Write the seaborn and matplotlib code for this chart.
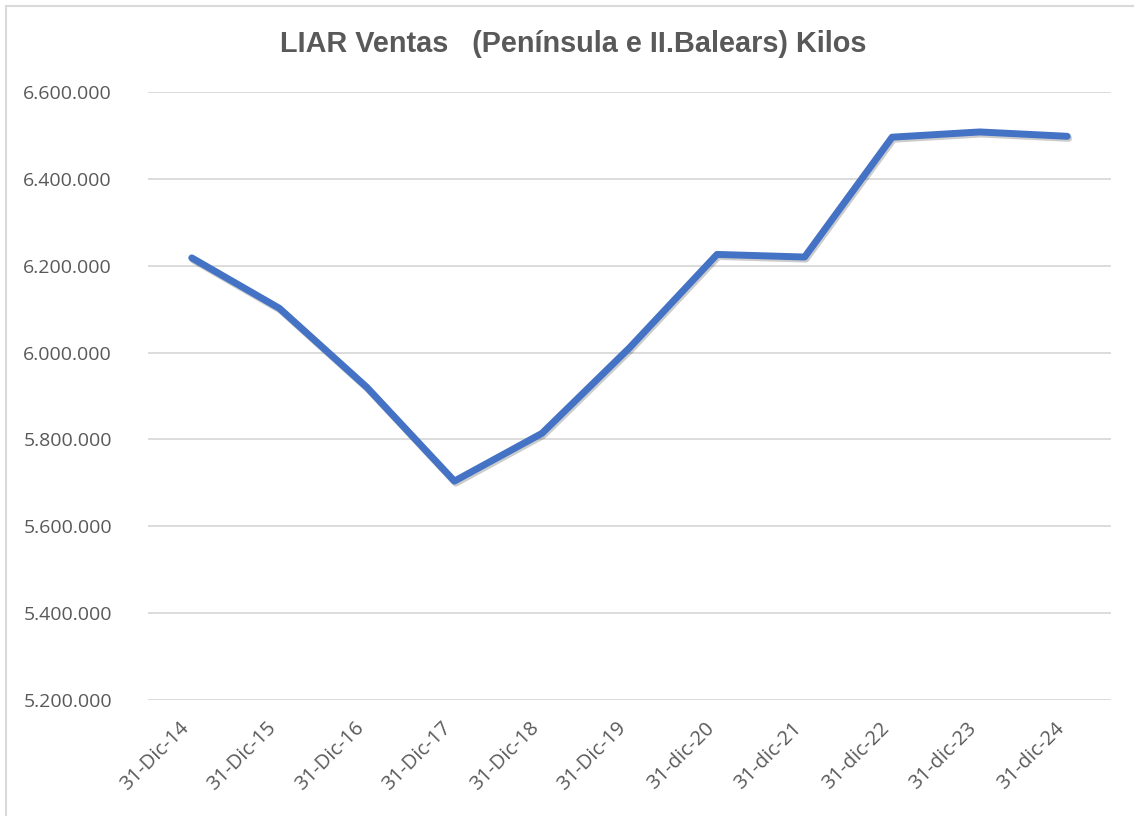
import matplotlib
matplotlib.use("Agg")
import pandas as pd
import seaborn as sns
import matplotlib.pyplot as plt
import matplotlib.patheffects as pe
import matplotlib.transforms as mtransforms
from matplotlib.lines import Line2D
from matplotlib.ticker import FuncFormatter

# datos
fechas = ["31-Dic-14", "31-Dic-15", "31-Dic-16", "31-Dic-17", "31-Dic-18", "31-Dic-19",
          "31-dic-20", "31-dic-21", "31-dic-22", "31-dic-23", "31-dic-24"]
kilos = [6218000, 6102000, 5920000, 5704000, 5814000, 6011000,
         6226000, 6220000, 6496000, 6508000, 6498000]
y_ticks = [5200000, 5400000, 5600000, 5800000, 6000000, 6200000, 6400000, 6600000]

df = pd.DataFrame({"fecha": fechas, "kilos": kilos})
df["pos"] = range(len(df))

sns.set_theme(style="white")
plt.rcParams["font.family"] = ["Open Sans", "DejaVu Sans"]

fig = plt.figure(figsize=(11.34, 8.16), dpi=100)
ax = fig.add_axes([148 / 1134, 1 - 700 / 816, (1111 - 148) / 1134, (700 - 92) / 816])

gris = "#595959"
ax.set_ylim(5200000, 6600000)
ax.set_yticks(y_ticks)
ax.set_xlim(-0.5, len(fechas) - 0.5)
ax.grid(axis="y", color="#D9D9D9", linewidth=1.3)
ax.set_axisbelow(True)

sns.lineplot(data=df, x="pos", y="kilos", ax=ax, color="#4472C4", linewidth=5,
             solid_capstyle="round", solid_joinstyle="round",
             path_effects=[pe.SimpleLineShadow(offset=(1, -1.5), alpha=0.2, shadow_color="black"),
                           pe.Normal()])

ax.yaxis.set_major_formatter(FuncFormatter(lambda v, p: f"{int(v):,}".replace(",", ".")))
ax.set_xticks(df["pos"])
ax.set_xticklabels(fechas, rotation=45, ha="right", rotation_mode="anchor")
ax.tick_params(axis="y", labelsize=14, labelcolor=gris, length=0, pad=26)
ax.tick_params(axis="x", labelsize=14.5, labelcolor=gris, length=0, pad=13)
ax.set_xlabel("")
ax.set_ylabel("")
sns.despine(ax=ax, left=True, bottom=True)

# desplazar etiquetas del eje x un poco a la izquierda
desp = mtransforms.ScaledTranslation(-13 / 100, 0, fig.dpi_scale_trans)
for lbl in ax.get_xticklabels():
    lbl.set_transform(lbl.get_transform() + desp)

fig.text(573 / 1134, 1 - 44 / 816, "LIAR Ventas   (Península e II.Balears) Kilos",
         ha="center", va="center", fontsize=20.8, fontweight="bold", color=gris,
         family=["Liberation Sans", "DejaVu Sans"])

# marco del gráfico
fig.add_artist(Line2D([6 / 1134, 6 / 1134], [0, 1 - 6 / 816], transform=fig.transFigure,
                      color="#D9D9D9", linewidth=1.5))
fig.add_artist(Line2D([6 / 1134, 1], [1 - 6 / 816, 1 - 6 / 816], transform=fig.transFigure,
                      color="#D9D9D9", linewidth=1.5))

fig.savefig("out.png", dpi=100)
